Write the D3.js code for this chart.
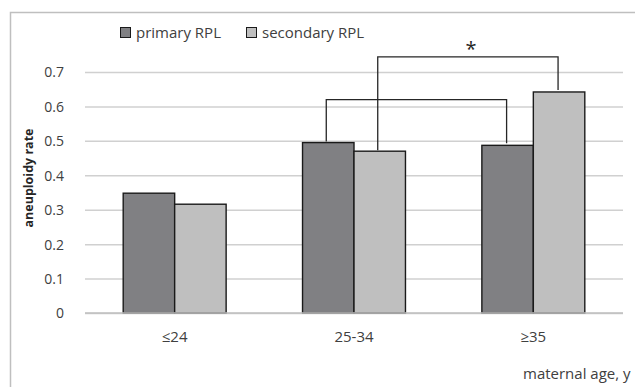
<!DOCTYPE html>
<html>
<head>
<meta charset="utf-8">
<script src="https://cdn.jsdelivr.net/npm/d3@7/dist/d3.min.js"></script>
<style>
  body { margin: 0; background: #fff; }
  svg { display: block; font-family: "Open Sans", sans-serif; }
  .y-axis path, .y-axis line { display: none; }
  .grid line { stroke: #d0d0d0; stroke-width: 1.5; }
  .grid path { display: none; }
</style>
</head>
<body>
<svg id="chart" width="635" height="387"></svg>
<script>
const categories = ["≤24", "25-34", "≥35"];
const seriesNames = ["primary RPL", "secondary RPL"];
const primary = [0.348, 0.495, 0.487];
const secondary = [0.316, 0.470, 0.642];
const yTicks = [0, 0.1, 0.2, 0.3, 0.4, 0.5, 0.6, 0.7];
const colors = ["#808083", "#bfbfbf"];

const margin = { left: 85, right: 12, top: 72, bottom: 74 };
const width = 635, height = 387;
const fs = 15;

const svg = d3.select("#chart");

// outer frame (clipped at right/bottom like the source)
svg.append("rect")
  .attr("x", 10.5).attr("y", 12.5)
  .attr("width", 640).attr("height", 400)
  .attr("fill", "none").attr("stroke", "#bfbfbf").attr("stroke-width", 1.5);

const x = d3.scaleBand()
  .domain(categories)
  .range([margin.left, width - margin.right])
  .paddingInner(0.426).paddingOuter(0.213);

const x1 = d3.scaleBand()
  .domain(seriesNames)
  .range([0, x.bandwidth()]);

const y = d3.scaleLinear()
  .domain([0, 0.7])
  .range([height - margin.bottom, margin.top]);

// grid
svg.append("g")
  .attr("class", "grid")
  .attr("transform", `translate(${margin.left},0)`)
  .call(d3.axisRight(y).tickValues(yTicks).tickSize(width - margin.right - margin.left).tickFormat(""));

// y axis labels
svg.append("g")
  .attr("class", "y-axis")
  .attr("transform", `translate(${margin.left - 18},0)`)
  .call(d3.axisLeft(y).tickValues(yTicks).tickSize(0).tickFormat(d3.format("")))
  .call((g) => g.attr("font-size", 14).attr("font-family", null))
  .selectAll("text").attr("dy", "0.35em").attr("fill", "#404040");

const rows = categories.map((c, i) => ({ cat: c, values: [primary[i], secondary[i]] }));

svg.append("g")
  .selectAll("g")
  .data(rows)
  .join("g")
  .attr("transform", (d) => `translate(${x(d.cat)},0)`)
  .selectAll("rect")
  .data((d) => d.values.map((v, j) => ({ v, name: seriesNames[j], j })))
  .join("rect")
  .attr("x", (d) => x1(d.name))
  .attr("y", (d) => y(d.v))
  .attr("width", x1.bandwidth())
  .attr("height", (d) => y(0) - y(d.v))
  .attr("fill", (d) => colors[d.j])
  .attr("stroke", "#1a1a1a")
  .attr("stroke-width", 1.4);

// baseline
svg.append("line")
  .attr("x1", margin.left).attr("x2", width - margin.right)
  .attr("y1", y(0)).attr("y2", y(0))
  .attr("stroke", "#bfbfbf").attr("stroke-width", 1.5);

// x labels
svg.append("g")
  .selectAll("text")
  .data(categories)
  .join("text")
  .attr("x", (d) => x(d) + x.bandwidth() / 2)
  .attr("y", 342)
  .attr("text-anchor", "middle")
  .attr("fill", "#404040")
  .attr("font-size", fs)
  .text((d) => d);

svg.append("text")
  .attr("x", 523).attr("y", 379)
  .attr("fill", "#404040").attr("font-size", fs)
  .text("maternal age, y");

svg.append("text")
  .attr("transform", `translate(33,178) rotate(-90)`)
  .attr("text-anchor", "middle")
  .attr("fill", "#262626").attr("font-size", 12.5).attr("font-weight", "bold")
  .text("aneuploidy rate");

// legend
const legend = svg.append("g")
  .selectAll("g")
  .data(seriesNames)
  .join("g")
  .attr("transform", (d, i) => `translate(${[120, 246][i]},27)`);
legend.append("rect")
  .attr("x", 0.5).attr("y", 0.5)
  .attr("width", 10).attr("height", 10)
  .attr("fill", (d, i) => colors[i])
  .attr("stroke", "#1a1a1a");
legend.append("text")
  .attr("x", 16).attr("y", 11)
  .attr("fill", "#404040").attr("font-size", fs)
  .text((d) => d);

// significance brackets
const cx = (i, name) => x(categories[i]) + x1(name) + x1.bandwidth() / 2;
const brackets = [
  { a: [1, seriesNames[0]], b: [2, seriesNames[0]], top: 0.62, mark: "" },
  { a: [1, seriesNames[1]], b: [2, seriesNames[1]], top: 0.744, mark: "*" }
];
brackets.forEach((br) => {
  const i = br.a[0], j = br.b[0];
  const va = (br.a[1] === seriesNames[0] ? primary : secondary)[i];
  const vb = (br.b[1] === seriesNames[0] ? primary : secondary)[j];
  const xa = cx(i, br.a[1]) - 2, xb = cx(j, br.b[1]) - 1;
  svg.append("path")
    .attr("d", `M${xa},${y(va) - 1}V${y(br.top)}H${xb}V${y(vb) - 2}`)
    .attr("fill", "none")
    .attr("stroke", "#262626")
    .attr("stroke-width", 1.3);
  if (br.mark) {
    svg.append("text")
      .attr("x", (xa + xb) / 2 + 3)
      .attr("y", y(br.top) - 1)
      .attr("text-anchor", "middle")
      .attr("fill", "#262626").attr("font-size", 20)
      .text(br.mark);
  }
});
</script>
</body>
</html>
